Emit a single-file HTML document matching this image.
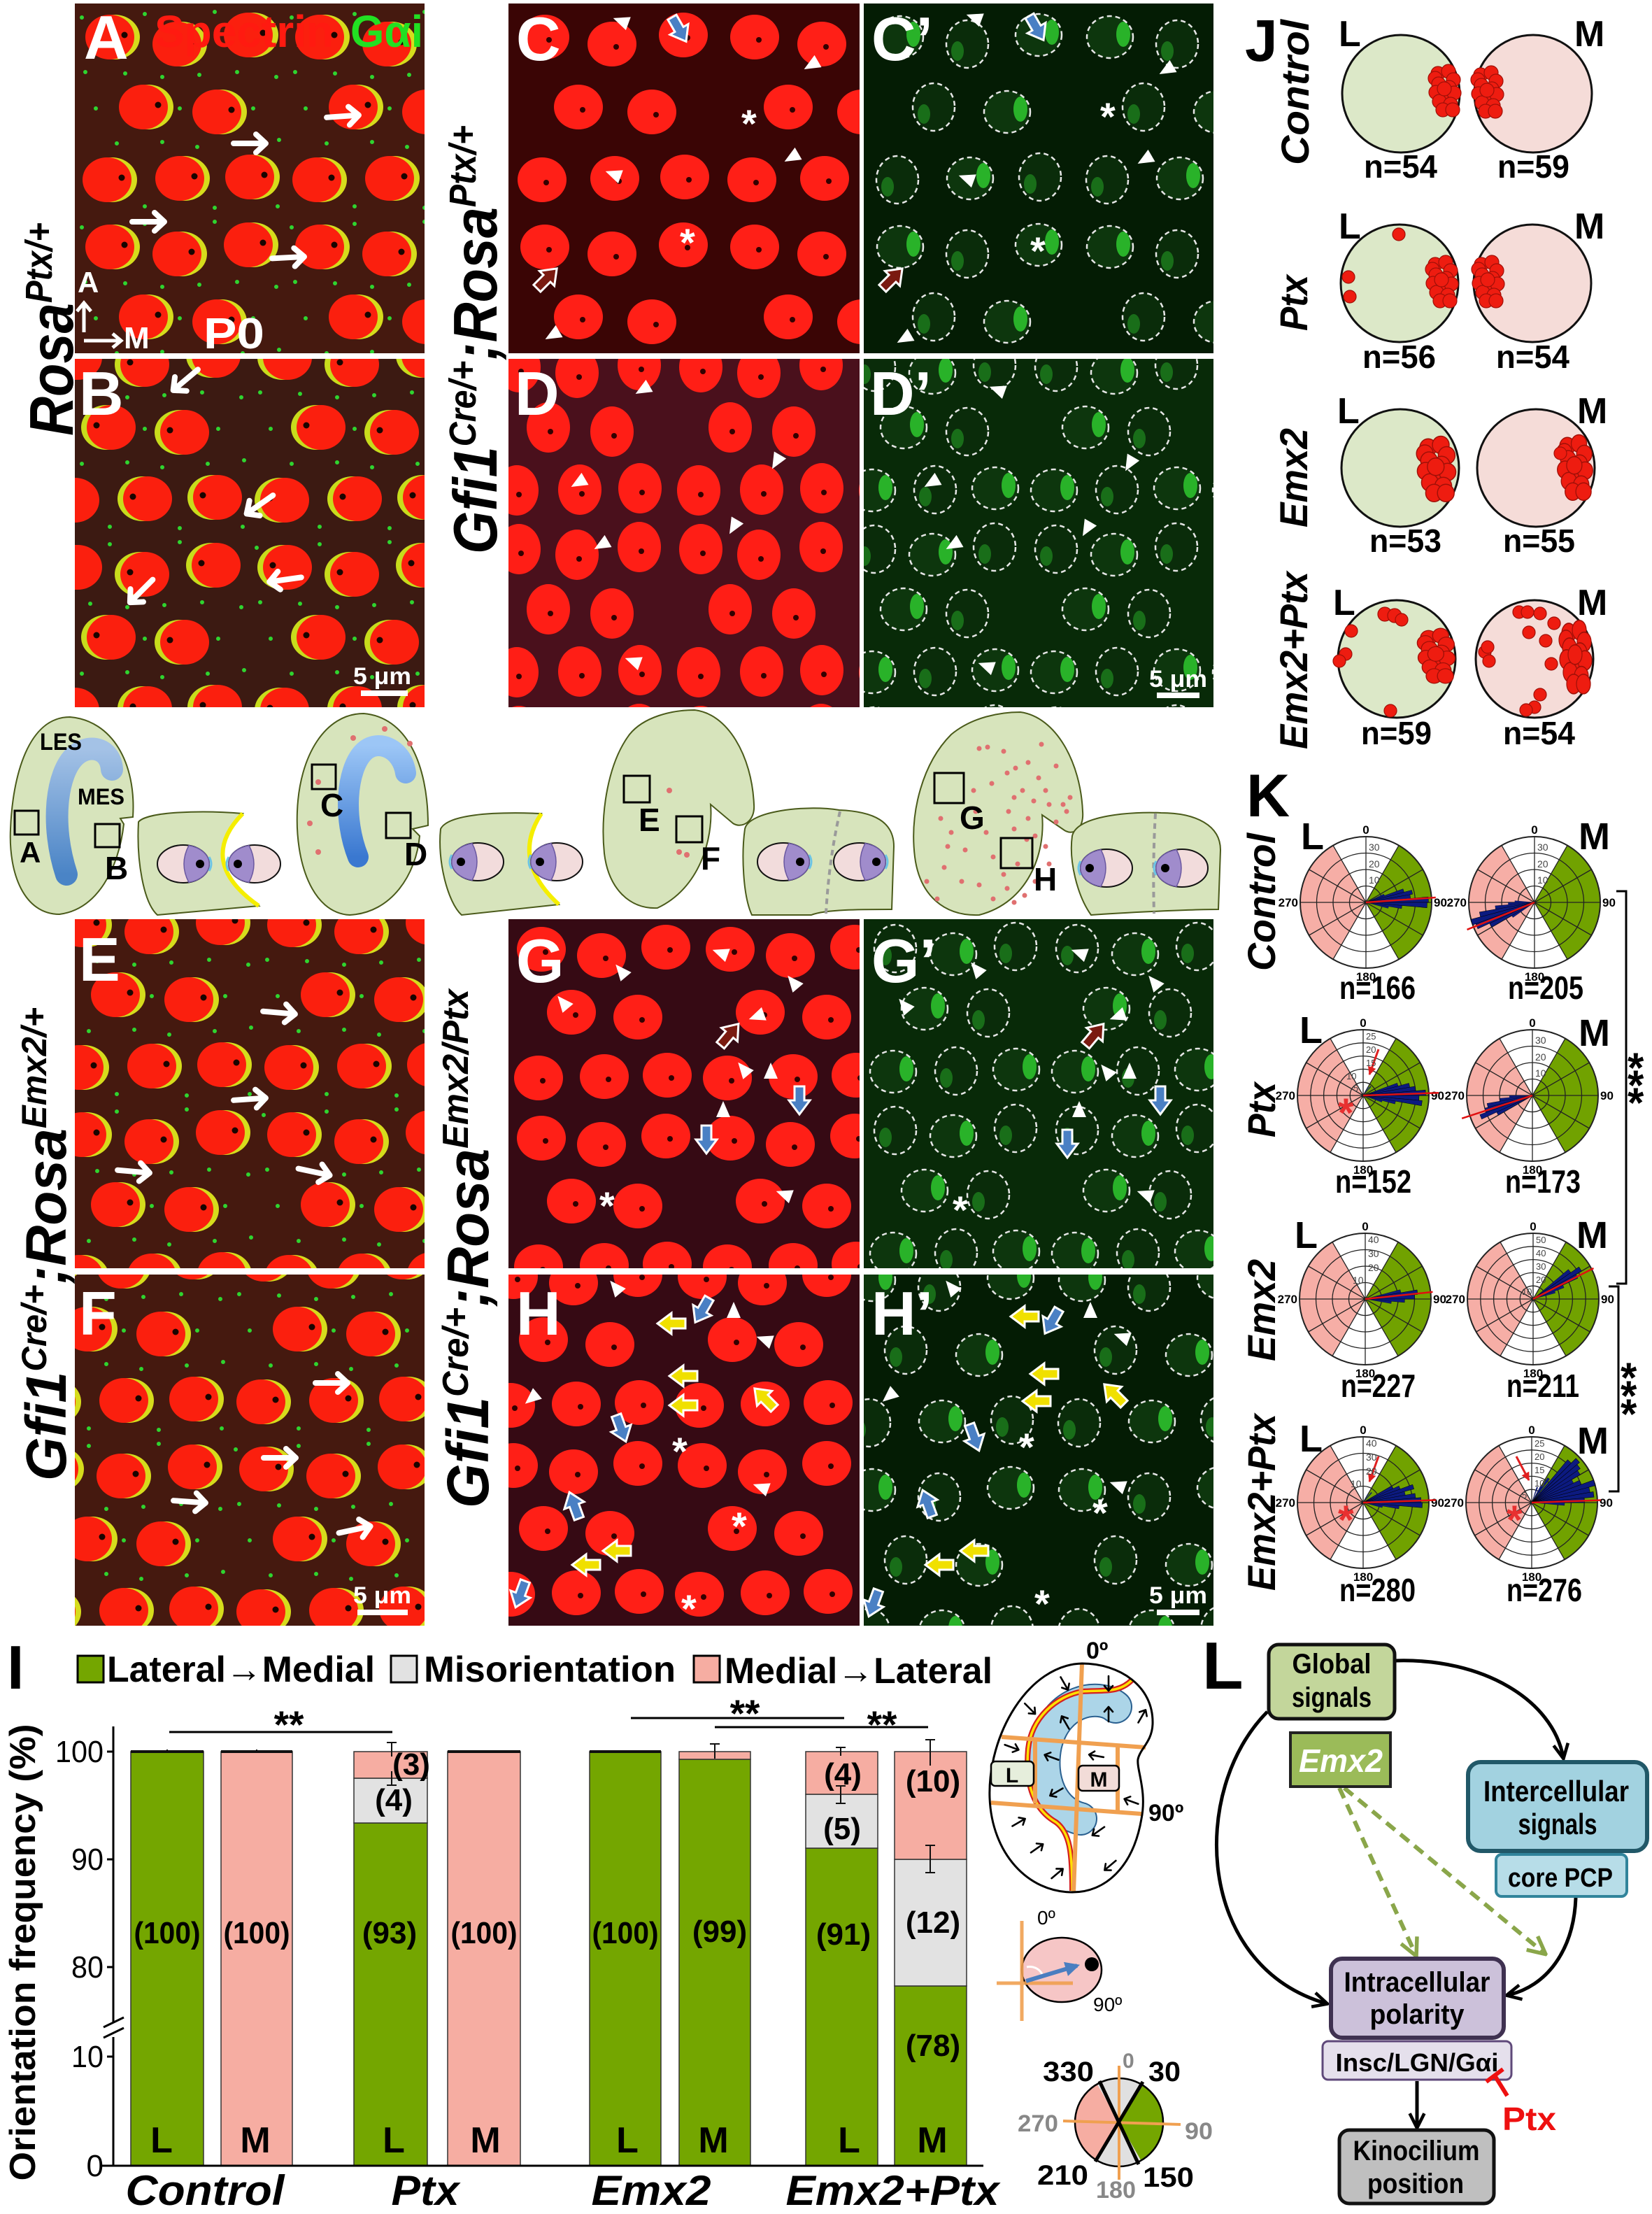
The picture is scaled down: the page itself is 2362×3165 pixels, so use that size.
<!DOCTYPE html>
<html><head><meta charset="utf-8"><style>
html,body{margin:0;padding:0;background:#fff;}
svg{display:block;}
.b{font-family:"Liberation Sans",sans-serif;font-weight:bold;}
.r{font-family:"Liberation Sans",sans-serif;}
.n{font-family:"Liberation Sans Narrow","Liberation Sans",sans-serif;font-weight:bold;}
.nr{font-family:"Liberation Sans Narrow","Liberation Sans",sans-serif;}
.bi{font-family:"Liberation Sans",sans-serif;font-weight:bold;font-style:italic;}
.ni{font-family:"Liberation Sans Narrow","Liberation Sans",sans-serif;font-weight:bold;font-style:italic;}
</style></head><body>
<svg width="2362" height="3165" viewBox="0 0 2362 3165" xmlns="http://www.w3.org/2000/svg">
<defs>
<g id="cA"><ellipse cx="5" rx="36" ry="32" fill="#d6dc1c"/><ellipse cx="-2" rx="35" ry="32" fill="#fb1f0e"/><circle cx="19" cy="-3" r="4.5" fill="#1a0400"/></g>
<g id="cB"><ellipse cx="-5" rx="36" ry="32" fill="#c8dc1c"/><ellipse cx="2" rx="35" ry="32" fill="#fb1f0e"/><circle cx="-19" cy="-3" r="4.5" fill="#1a0400"/></g>
<g id="cC"><ellipse rx="35" ry="32" fill="#ff1f17"/><circle cx="6" cy="4" r="4" fill="#300"/></g>
<g id="cD"><ellipse rx="31" ry="36" fill="#ff1e16"/><circle cx="3" cy="6" r="4" fill="#300"/></g>
<g id="cG"><ellipse rx="33" ry="30" fill="#0d360d"/><ellipse cx="19" cy="-4" rx="10" ry="18" fill="#2cc02c" opacity=".9"/><ellipse rx="33" ry="30" fill="none" stroke="#e6e6e6" stroke-width="2.5" stroke-dasharray="7 5"/></g>
<g id="cG0"><ellipse rx="30" ry="34" fill="#0a2c0a" stroke="#e6e6e6" stroke-width="2.5" stroke-dasharray="7 5"/><ellipse cx="-14" cy="10" rx="9" ry="14" fill="#1f8a1f" opacity=".7"/></g>
<path id="spk" d="M15 98h0M72 100h0M125 105h0M178 102h0M232 98h0M288 105h0M60 200h0M125 198h0M175 205h0M240 200h0M292 195h0M10 20h0M100 15h0M200 12h0M290 290h0M100 290h0M200 292h0M150 150h0M30 150h0M255 150h0" stroke="#2fd42f" stroke-width="6" stroke-linecap="round"/>
<pattern id="pA" width="300" height="300" patternUnits="userSpaceOnUse">
<rect width="300" height="300" fill="#45190f"/><use href="#spk"/>
<use href="#cA" x="52" y="48"/><use href="#cA" x="148" y="58"/><use href="#cA" x="250" y="45"/><use href="#cA" x="100" y="148"/><use href="#cA" x="205" y="155"/><use href="#cA" x="48" y="252"/><use href="#cA" x="152" y="250"/><use href="#cA" x="252" y="248"/>
</pattern>
<pattern id="pB" width="300" height="300" patternUnits="userSpaceOnUse">
<rect width="300" height="300" fill="#3c1a12"/><use href="#spk"/>
<use href="#cB" x="52" y="48"/><use href="#cB" x="148" y="58"/><use href="#cB" x="250" y="45"/><use href="#cB" x="100" y="148"/><use href="#cB" x="205" y="155"/><use href="#cB" x="48" y="252"/><use href="#cB" x="152" y="250"/><use href="#cB" x="252" y="248"/>
</pattern>
<pattern id="pC" width="300" height="300" patternUnits="userSpaceOnUse">
<rect width="300" height="300" fill="#3a0505"/>
<use href="#cC" x="52" y="48"/><use href="#cC" x="148" y="58"/><use href="#cC" x="250" y="45"/><use href="#cC" x="100" y="148"/><use href="#cC" x="205" y="155"/><use href="#cC" x="48" y="252"/><use href="#cC" x="152" y="250"/><use href="#cC" x="252" y="248"/>
</pattern>
<pattern id="pCg" width="300" height="300" patternUnits="userSpaceOnUse">
<rect width="300" height="300" fill="#041c04"/>
<use href="#cG" x="52" y="48"/><use href="#cG0" x="148" y="58"/><use href="#cG" x="250" y="45"/><use href="#cG0" x="100" y="148"/><use href="#cG" x="205" y="155"/><use href="#cG0" x="48" y="252"/><use href="#cG" x="152" y="250"/><use href="#cG0" x="252" y="248"/>
</pattern>
<pattern id="pD" width="260" height="260" patternUnits="userSpaceOnUse">
<rect width="260" height="260" fill="#4a101c"/>
<use href="#cD" x="45" y="42"/><use href="#cD" x="128" y="50"/><use href="#cD" x="217" y="39"/><use href="#cD" x="87" y="128"/><use href="#cD" x="178" y="134"/><use href="#cD" x="42" y="218"/><use href="#cD" x="132" y="217"/><use href="#cD" x="218" y="215"/>
</pattern>
<pattern id="pDg" width="260" height="260" patternUnits="userSpaceOnUse">
<rect width="260" height="260" fill="#082a08"/>
<use href="#cG0" x="45" y="42"/><use href="#cG" x="128" y="50"/><use href="#cG0" x="217" y="39"/><use href="#cG" x="87" y="128"/><use href="#cG0" x="178" y="134"/><use href="#cG" x="42" y="218"/><use href="#cG0" x="132" y="217"/><use href="#cG" x="218" y="215"/>
</pattern>
<pattern id="pG" width="270" height="270" patternUnits="userSpaceOnUse">
<rect width="270" height="270" fill="#360a14"/>
<use href="#cC" x="47" y="43"/><use href="#cC" x="133" y="52"/><use href="#cC" x="225" y="40"/><use href="#cC" x="90" y="133"/><use href="#cC" x="185" y="140"/><use href="#cC" x="43" y="227"/><use href="#cC" x="137" y="225"/><use href="#cC" x="227" y="223"/>
</pattern>
<path id="wa" d="M-26 0H18M6 -13L20 0L6 13" fill="none" stroke="#fff" stroke-width="8" stroke-linecap="round" stroke-linejoin="round"/>
<path id="ah" d="M-11 -10L12 0L-11 10Z" fill="#fff"/>
<path id="blk" d="M-7 -20H7V0H15L0 20L-15 0H-7Z" stroke="#fff" stroke-width="3"/>
<g id="ka"><path d="M-11 0H9M3 -6L10 0L3 6" fill="none" stroke="#000" stroke-width="2.6" stroke-linecap="round" stroke-linejoin="round"/></g>
<g id="hcR"><ellipse rx="37" ry="27" fill="#f2dcdc" stroke="#111" stroke-width="2"/><path d="M8 -26.4A37 27 0 0 1 8 26.4Q-6 0 8 -26.4Z" fill="#a08ccc" stroke="#6a58a0" stroke-width="1.5"/><circle cx="24" r="6" fill="#000"/><path d="M37 -10Q43 0 37 10" stroke="#6cc4e6" stroke-width="3" fill="none"/></g>
<g id="hcL" transform="scale(-1 1)"><use href="#hcR"/></g>
<g id="cl" fill="#ee1c10" stroke="#a01008" stroke-width="1.2"><circle cx="-10" cy="-25" r="10"/><circle cx="5" cy="-28" r="10"/><circle cx="12" cy="-16" r="10"/><circle cx="-14" cy="-18" r="10"/><circle cx="-9" cy="-10" r="10"/><circle cx="6" cy="-5" r="10"/><circle cx="-13" cy="2" r="10"/><circle cx="3" cy="7" r="10"/><circle cx="13" cy="3" r="10"/><circle cx="-8" cy="15" r="10"/><circle cx="8" cy="19" r="10"/><circle cx="-3" cy="27" r="10"/><circle cx="11" cy="27" r="10"/><circle cx="-1" cy="-3" r="10"/></g>
<path id="w" d="M0 0L-4.4 -100L4.4 -100Z" fill="#0c1a80" stroke="#000" stroke-width="0.6"/>
<g id="pbase">
<circle r="94" fill="#fff"/>
<path d="M0 0L47 -81.4A94 94 0 0 1 47 81.4Z" fill="#71a200"/>
<path d="M0 0L-47 81.4A94 94 0 0 1 -47 -81.4Z" fill="#f6aea6"/>
<path d="M0 -94V94M-94 0H94M47 -81.4L-47 81.4M81.4 -47L-81.4 47M81.4 47L-81.4 -47M47 81.4L-47 -81.4" fill="none" stroke="#222" stroke-width="1.3"/>
<circle r="94" fill="none" stroke="#222" stroke-width="2"/>
<text class="b" font-size="17" text-anchor="middle" y="-98">0</text>
<text class="b" font-size="17" text-anchor="middle" y="112">180</text>
<text class="b" font-size="17" x="-97" y="6" text-anchor="end">270</text>
<text class="b" font-size="17" x="97" y="6">90</text>
</g>
<g id="r4" fill="none" stroke="#222" stroke-width="1.3"><circle r="23.5"/><circle r="47"/><circle r="70.5"/></g>
<g id="r5" fill="none" stroke="#222" stroke-width="1.3"><circle r="18.8"/><circle r="37.6"/><circle r="56.4"/><circle r="75.2"/></g>
<marker id="mB" viewBox="0 0 12 12" refX="10" refY="6" markerWidth="5" markerHeight="5" orient="auto"><path d="M1 1L11 6L1 11" fill="none" stroke="#000" stroke-width="2.2"/></marker>
<marker id="mG" viewBox="0 0 12 12" refX="10" refY="6" markerWidth="5" markerHeight="5" orient="auto"><path d="M1 1L11 6L1 11" fill="none" stroke="#8aa64a" stroke-width="2.2"/></marker>
<marker id="mR" viewBox="0 0 10 10" refX="9" refY="5" markerWidth="4" markerHeight="4" orient="auto"><path d="M0 0L10 5L0 10Z" fill="#e02020"/></marker>
<marker id="mBl" viewBox="0 0 10 10" refX="8" refY="5" markerWidth="3.5" markerHeight="3.5" orient="auto"><path d="M0 0L10 5L0 10Z" fill="#4a7ec0"/></marker>
<linearGradient id="bl1" x1="0" y1="0" x2="0" y2="1"><stop offset="0" stop-color="#a4c2e6"/><stop offset="1" stop-color="#4a84c6"/></linearGradient>
<linearGradient id="bl2" x1="0" y1="0" x2="0" y2="1"><stop offset="0" stop-color="#9cc6f6"/><stop offset="1" stop-color="#3a78d0"/></linearGradient>
</defs>

<!-- ===== Microscopy panels ===== -->
<g transform="translate(107,5)"><rect width="500" height="500" fill="url(#pA)"/></g>
<g transform="translate(57,463)"><rect x="50" y="50" width="500" height="498" fill="url(#pB)"/></g>
<g transform="translate(727,5)"><rect width="502" height="500" fill="url(#pC)"/></g>
<g transform="translate(1235,5)"><rect width="500" height="500" fill="url(#pCg)"/></g>
<g transform="translate(697,483)"><rect x="30" y="30" width="502" height="498" fill="url(#pD)"/></g>
<g transform="translate(1205,483)"><rect x="30" y="30" width="500" height="498" fill="url(#pDg)"/></g>
<g transform="translate(67,1274)"><rect x="40" y="40" width="500" height="499" fill="url(#pA)"/></g>
<g transform="translate(27,1752)"><rect x="80" y="70" width="500" height="502" fill="url(#pA)"/></g>
<g transform="translate(727,1314)"><rect width="502" height="499" fill="url(#pG)"/></g>
<g transform="translate(1235,1314)"><rect width="500" height="499" fill="url(#pDg)"/></g>
<g transform="translate(687,1782)"><rect x="40" y="40" width="502" height="502" fill="url(#pG)"/></g>
<g transform="translate(1195,1782)"><rect x="40" y="40" width="500" height="502" fill="url(#pCg)"/></g>

<!-- Panel A overlays -->
<text class="b" x="120" y="84" font-size="88" fill="#fff">A</text>
<text class="n" x="221" y="67" font-size="64" fill="#ff1a10" textLength="256" lengthAdjust="spacingAndGlyphs">Spectrin</text>
<text class="n" x="501" y="67" font-size="64" fill="#22e022" textLength="104" lengthAdjust="spacingAndGlyphs">Gαi</text>
<use href="#wa" transform="translate(493,166) rotate(-4)"/>
<use href="#wa" transform="translate(360,205)"/>
<use href="#wa" transform="translate(215,317)"/>
<use href="#wa" transform="translate(415,368) rotate(-3)"/>
<text class="b" x="111" y="418" font-size="42" fill="#fff">A</text>
<path d="M120 475V434M110 445L120 433L130 445M120 487H172M161 477L173 487L161 497" fill="none" stroke="#fff" stroke-width="5"/>
<text class="b" x="177" y="498" font-size="44" fill="#fff">M</text>
<text class="b" x="291" y="498" font-size="62" fill="#fff" textLength="87" lengthAdjust="spacingAndGlyphs">P0</text>
<!-- B -->
<text class="b" x="113" y="593" font-size="88" fill="#fff">B</text>
<use href="#wa" transform="translate(263,545) rotate(140)"/>
<use href="#wa" transform="translate(369,723) rotate(145)"/>
<use href="#wa" transform="translate(405,829) rotate(172)"/>
<use href="#wa" transform="translate(200,847) rotate(135)"/>
<text class="b" x="505" y="978" font-size="34" fill="#fff" textLength="83" lengthAdjust="spacingAndGlyphs">5 μm</text>
<rect x="516" y="987" width="67" height="8" fill="#fff"/>
<!-- C -->
<text class="b" x="738" y="86" font-size="88" fill="#fff">C</text>
<use href="#ah" transform="translate(888,30) rotate(200)"/><use href="#ah" transform="translate(1160,93) rotate(150)"/><use href="#ah" transform="translate(1132,225) rotate(150)"/><use href="#ah" transform="translate(877,249) rotate(200)"/><use href="#ah" transform="translate(790,479) rotate(150)"/>
<text class="b" x="1060" y="196" font-size="56" fill="#fff">*</text><text class="b" x="972" y="366" font-size="56" fill="#fff">*</text>
<use href="#blk" fill="#4a80c4" transform="translate(971,42) rotate(-30)"/>
<use href="#blk" fill="#7a1a10" transform="translate(782,398) rotate(-135)"/>
<!-- C' -->
<text class="b" x="1246" y="86" font-size="88" fill="#fff">C’</text>
<use href="#ah" transform="translate(1393,25) rotate(200)"/><use href="#ah" transform="translate(1668,100) rotate(150)"/><use href="#ah" transform="translate(1637,228) rotate(150)"/><use href="#ah" transform="translate(1382,255) rotate(200)"/><use href="#ah" transform="translate(1293,484) rotate(150)"/>
<text class="b" x="1573" y="186" font-size="56" fill="#fff">*</text><text class="b" x="1473" y="378" font-size="56" fill="#fff">*</text>
<use href="#blk" fill="#4a80c4" transform="translate(1482,40) rotate(-30)"/>
<use href="#blk" fill="#7a1a10" transform="translate(1276,398) rotate(-135)"/>
<!-- D -->
<text class="b" x="736" y="593" font-size="88" fill="#fff">D</text>
<use href="#ah" transform="translate(919,557) rotate(150)"/><use href="#ah" transform="translate(827,690) rotate(150)"/><use href="#ah" transform="translate(1110,660) rotate(120)"/><use href="#ah" transform="translate(860,779) rotate(150)"/><use href="#ah" transform="translate(1049,753) rotate(120)"/><use href="#ah" transform="translate(905,945) rotate(200)"/>
<!-- D' -->
<text class="b" x="1244" y="593" font-size="88" fill="#fff">D’</text>
<use href="#ah" transform="translate(1426,557) rotate(200)"/><use href="#ah" transform="translate(1332,690) rotate(150)"/><use href="#ah" transform="translate(1615,663) rotate(120)"/><use href="#ah" transform="translate(1363,779) rotate(150)"/><use href="#ah" transform="translate(1554,756) rotate(120)"/><use href="#ah" transform="translate(1410,952) rotate(200)"/>
<text class="b" x="1643" y="982" font-size="34" fill="#fff" textLength="83" lengthAdjust="spacingAndGlyphs">5 μm</text>
<rect x="1654" y="990" width="61" height="8" fill="#fff"/>
<!-- E -->
<text class="b" x="113" y="1402" font-size="88" fill="#fff">E</text>
<use href="#wa" transform="translate(402,1448) rotate(5)"/><use href="#wa" transform="translate(360,1571) rotate(-4)"/><use href="#wa" transform="translate(194,1675) rotate(5)"/><use href="#wa" transform="translate(452,1676) rotate(12)"/>
<!-- F -->
<text class="b" x="113" y="1908" font-size="88" fill="#fff">F</text>
<use href="#wa" transform="translate(477,1977)"/><use href="#wa" transform="translate(403,2084)"/><use href="#wa" transform="translate(274,2147) rotate(4)"/><use href="#wa" transform="translate(510,2186) rotate(-12)"/>
<text class="b" x="505" y="2292" font-size="34" fill="#fff" textLength="83" lengthAdjust="spacingAndGlyphs">5 μm</text>
<rect x="511" y="2301" width="72" height="8" fill="#fff"/>
<!-- G -->
<text class="b" x="738" y="1404" font-size="88" fill="#fff">G</text>
<use href="#ah" transform="translate(805,1433) rotate(230)"/><use href="#ah" transform="translate(888,1388) rotate(230)"/><use href="#ah" transform="translate(1030,1362) rotate(200)"/><use href="#ah" transform="translate(1134,1404) rotate(230)"/><use href="#ah" transform="translate(1082,1453) rotate(160)"/><use href="#ah" transform="translate(1063,1528) rotate(230)"/><use href="#ah" transform="translate(1102,1531) rotate(270)"/><use href="#ah" transform="translate(1034,1586) rotate(270)"/><use href="#ah" transform="translate(1121,1707) rotate(200)"/>
<use href="#blk" fill="#7a1a10" transform="translate(1043,1479) rotate(-140)"/>
<use href="#blk" fill="#4a80c4" transform="translate(1143,1573)"/><use href="#blk" fill="#4a80c4" transform="translate(1010,1629)"/>
<text class="b" x="857" y="1743" font-size="56" fill="#fff">*</text>
<!-- G' -->
<text class="b" x="1246" y="1404" font-size="88" fill="#fff">G’</text>
<use href="#ah" transform="translate(1293,1437) rotate(230)"/><use href="#ah" transform="translate(1396,1385) rotate(230)"/><use href="#ah" transform="translate(1543,1362) rotate(200)"/><use href="#ah" transform="translate(1650,1404) rotate(230)"/><use href="#ah" transform="translate(1598,1453) rotate(160)"/><use href="#ah" transform="translate(1582,1531) rotate(230)"/><use href="#ah" transform="translate(1615,1531) rotate(270)"/><use href="#ah" transform="translate(1543,1586) rotate(270)"/><use href="#ah" transform="translate(1637,1707) rotate(200)"/>
<use href="#blk" fill="#7a1a10" transform="translate(1565,1479) rotate(-140)"/>
<use href="#blk" fill="#4a80c4" transform="translate(1659,1573)"/><use href="#blk" fill="#4a80c4" transform="translate(1526,1635)"/>
<text class="b" x="1362" y="1749" font-size="56" fill="#fff">*</text>
<!-- H -->
<text class="b" x="738" y="1908" font-size="88" fill="#fff">H</text>
<use href="#ah" transform="translate(880,1840) rotate(230)"/><use href="#ah" transform="translate(1049,1873) rotate(270)"/><use href="#ah" transform="translate(1093,1915) rotate(200)"/><use href="#ah" transform="translate(760,1999) rotate(140)"/><use href="#ah" transform="translate(1088,2126) rotate(200)"/>
<use href="#blk" fill="#f0e000" transform="translate(960,1892) rotate(90)"/><use href="#blk" fill="#f0e000" transform="translate(977,1967) rotate(90)"/><use href="#blk" fill="#f0e000" transform="translate(977,2009) rotate(90)"/><use href="#blk" fill="#f0e000" transform="translate(1093,1999) rotate(135)"/><use href="#blk" fill="#f0e000" transform="translate(882,2217) rotate(90)"/><use href="#blk" fill="#f0e000" transform="translate(838,2237) rotate(90)"/>
<use href="#blk" fill="#4a80c4" transform="translate(1004,1873) rotate(30)"/><use href="#blk" fill="#4a80c4" transform="translate(888,2042) rotate(-20)"/><use href="#blk" fill="#4a80c4" transform="translate(821,2152) rotate(160)"/><use href="#blk" fill="#4a80c4" transform="translate(744,2279) rotate(20)"/>
<text class="b" x="961" y="2094" font-size="56" fill="#fff">*</text><text class="b" x="1046" y="2201" font-size="56" fill="#fff">*</text><text class="b" x="974" y="2319" font-size="56" fill="#fff">*</text>
<!-- H' -->
<text class="b" x="1246" y="1908" font-size="88" fill="#fff">H’</text>
<use href="#ah" transform="translate(1360,1840) rotate(230)"/><use href="#ah" transform="translate(1559,1873) rotate(270)"/><use href="#ah" transform="translate(1604,1911) rotate(200)"/><use href="#ah" transform="translate(1271,1996) rotate(140)"/><use href="#ah" transform="translate(1598,2123) rotate(200)"/>
<use href="#blk" fill="#f0e000" transform="translate(1465,1882) rotate(90)"/><use href="#blk" fill="#f0e000" transform="translate(1493,1964) rotate(90)"/><use href="#blk" fill="#f0e000" transform="translate(1482,2003) rotate(90)"/><use href="#blk" fill="#f0e000" transform="translate(1593,1993) rotate(135)"/><use href="#blk" fill="#f0e000" transform="translate(1393,2217) rotate(90)"/><use href="#blk" fill="#f0e000" transform="translate(1343,2237) rotate(90)"/>
<use href="#blk" fill="#4a80c4" transform="translate(1504,1889) rotate(30)"/><use href="#blk" fill="#4a80c4" transform="translate(1393,2055) rotate(-20)"/><use href="#blk" fill="#4a80c4" transform="translate(1326,2149) rotate(160)"/><use href="#blk" fill="#4a80c4" transform="translate(1249,2292) rotate(20)"/>
<text class="b" x="1457" y="2088" font-size="56" fill="#fff">*</text><text class="b" x="1562" y="2182" font-size="56" fill="#fff">*</text><text class="b" x="1479" y="2312" font-size="56" fill="#fff">*</text>
<text class="b" x="1643" y="2292" font-size="34" fill="#fff" textLength="83" lengthAdjust="spacingAndGlyphs">5 μm</text>
<rect x="1654" y="2301" width="61" height="8" fill="#fff"/>

<!-- Rotated genotype labels -->
<text class="bi" font-size="88" transform="translate(104,623) rotate(-90)" textLength="305" lengthAdjust="spacingAndGlyphs">Rosa<tspan font-size="54" dy="-30">Ptx/+</tspan></text>
<text class="bi" font-size="88" transform="translate(710,792) rotate(-90)" textLength="613" lengthAdjust="spacingAndGlyphs">Gfi1<tspan font-size="54" dy="-30">Cre/+</tspan><tspan dy="30">;Rosa</tspan><tspan font-size="54" dy="-30">Ptx/+</tspan></text>
<text class="bi" font-size="82" transform="translate(94,2117) rotate(-90)" textLength="677" lengthAdjust="spacingAndGlyphs">Gfi1<tspan font-size="50" dy="-28">Cre/+</tspan><tspan dy="28">;Rosa</tspan><tspan font-size="50" dy="-28">Emx2/+</tspan></text>
<text class="bi" font-size="84" transform="translate(698,2156) rotate(-90)" textLength="742" lengthAdjust="spacingAndGlyphs">Gfi1<tspan font-size="52" dy="-29">Cre/+</tspan><tspan dy="29">;Rosa</tspan><tspan font-size="52" dy="-29">Emx2/Ptx</tspan></text>

<!-- ===== Schematic row ===== -->
<g stroke="#4a5a1a" stroke-width="2">
<path d="M100 1025C160 1030 195 1090 190 1168L172 1170L177 1178C170 1240 140 1300 85 1307C35 1307 12 1250 15 1185C18 1110 40 1025 100 1025Z" fill="#d7e4bc"/>
<path d="M520 1020C580 1025 612 1090 612 1180L590 1185L600 1195C595 1250 560 1305 500 1308C445 1305 422 1230 425 1160C428 1080 465 1020 520 1020Z" fill="#d7e4bc"/>
<path d="M993 1015C1040 1020 1075 1080 1078 1150C1080 1175 1060 1185 1048 1177L1016 1150C1020 1200 1000 1270 940 1298C900 1300 870 1270 864 1220C858 1160 870 1090 900 1050C920 1025 960 1015 993 1015Z" fill="#d7e4bc"/>
<path d="M1459 1018C1510 1025 1545 1090 1548 1160C1550 1185 1535 1195 1522 1187L1490 1165C1495 1220 1470 1290 1400 1308C1350 1310 1315 1280 1308 1225C1300 1160 1320 1090 1360 1050C1390 1025 1430 1018 1459 1018Z" fill="#d7e4bc"/>
<path d="M198 1175C210 1160 290 1158 347 1163Q280 1232 370 1295L225 1308C205 1290 195 1230 198 1175Z" fill="#d7e4bc"/>
<path d="M630 1185C640 1165 700 1160 774 1163Q730 1230 799 1293L660 1308C640 1290 625 1230 630 1185Z" fill="#d7e4bc"/>
<path d="M1065 1185C1070 1160 1150 1150 1200 1158C1250 1160 1278 1175 1278 1210L1275 1300C1230 1300 1180 1300 1160 1308L1075 1308C1062 1280 1060 1220 1065 1185Z" fill="#d7e4bc"/>
<path d="M1533 1195C1540 1165 1620 1160 1660 1162C1710 1162 1745 1180 1745 1215L1742 1300C1700 1300 1600 1305 1560 1308C1540 1280 1528 1230 1533 1195Z" fill="#d7e4bc"/>
</g>
<path d="M160 1100C158 1070 128 1062 108 1080C80 1105 72 1180 95 1250" fill="none" stroke="url(#bl1)" stroke-width="32" stroke-linecap="round"/>
<path d="M580 1105C575 1070 540 1055 520 1075C495 1100 490 1170 512 1225" fill="none" stroke="url(#bl2)" stroke-width="30" stroke-linecap="round"/>
<path d="M347 1163Q280 1232 370 1295" fill="none" stroke="#f5ee00" stroke-width="6"/>
<path d="M774 1163Q730 1230 799 1293" fill="none" stroke="#f5ee00" stroke-width="6"/>
<path d="M1201 1160Q1185 1230 1181 1306" fill="none" stroke="#9a9a9a" stroke-width="4" stroke-dasharray="8 6"/>
<path d="M1652 1163Q1648 1230 1650 1306" fill="none" stroke="#9a9a9a" stroke-width="4" stroke-dasharray="8 6"/>
<use href="#hcR" x="262" y="1235"/><use href="#hcL" x="364" y="1235"/>
<use href="#hcL" x="683" y="1232"/><use href="#hcL" x="796" y="1232"/>
<use href="#hcR" x="1120" y="1232"/><use href="#hcR" x="1229" y="1232"/>
<use href="#hcL" x="1582" y="1241"/><use href="#hcL" x="1690" y="1241"/>
<g fill="#e07070">
<circle cx="550" cy="1042" r="4"/><circle cx="505" cy="1055" r="4"/><circle cx="586" cy="1063" r="4"/><circle cx="455" cy="1118" r="4"/><circle cx="443" cy="1177" r="4"/><circle cx="455" cy="1218" r="4"/>
<circle cx="957" cy="1130" r="4"/><circle cx="971" cy="1218" r="4"/><circle cx="982" cy="1222" r="4"/>
<circle cx="1400" cy="1070" r="3.5"/><circle cx="1412" cy="1068" r="3.5"/><circle cx="1435" cy="1074" r="3.5"/><circle cx="1489" cy="1064" r="3.5"/><circle cx="1418" cy="1120" r="3.5"/><circle cx="1440" cy="1105" r="3.5"/><circle cx="1452" cy="1098" r="3.5"/><circle cx="1470" cy="1090" r="3.5"/><circle cx="1485" cy="1112" r="3.5"/><circle cx="1510" cy="1095" r="3.5"/><circle cx="1495" cy="1130" r="3.5"/><circle cx="1462" cy="1130" r="3.5"/><circle cx="1450" cy="1140" r="3.5"/><circle cx="1478" cy="1145" r="3.5"/><circle cx="1500" cy="1150" r="3.5"/><circle cx="1520" cy="1150" r="3.5"/><circle cx="1510" cy="1175" r="3.5"/><circle cx="1525" cy="1160" r="3.5"/><circle cx="1530" cy="1140" r="3.5"/><circle cx="1442" cy="1160" r="3.5"/><circle cx="1470" cy="1170" r="3.5"/><circle cx="1392" cy="1130" r="3.5"/><circle cx="1395" cy="1160" r="3.5"/><circle cx="1410" cy="1190" r="3.5"/><circle cx="1450" cy="1185" r="3.5"/><circle cx="1468" cy="1200" r="3.5"/><circle cx="1480" cy="1195" r="3.5"/><circle cx="1360" cy="1190" r="3.5"/><circle cx="1355" cy="1210" r="3.5"/><circle cx="1380" cy="1215" r="3.5"/><circle cx="1420" cy="1225" r="3.5"/><circle cx="1435" cy="1250" r="3.5"/><circle cx="1455" cy="1235" r="3.5"/><circle cx="1480" cy="1260" r="3.5"/><circle cx="1400" cy="1265" r="3.5"/><circle cx="1440" cy="1270" r="3.5"/><circle cx="1465" cy="1280" r="3.5"/><circle cx="1420" cy="1285" r="3.5"/><circle cx="1375" cy="1260" r="3.5"/><circle cx="1350" cy="1240" r="3.5"/><circle cx="1345" cy="1170" r="3.5"/><circle cx="1450" cy="1290" r="3.5"/><circle cx="1495" cy="1210" r="3.5"/><circle cx="1500" cy="1235" r="3.5"/><circle cx="1325" cy="1260" r="3.5"/><circle cx="1340" cy="1285" r="3.5"/>
</g>
<g fill="none" stroke="#000" stroke-width="3">
<rect x="21" y="1159" width="34" height="34"/><rect x="136" y="1178" width="35" height="33"/>
<rect x="446" y="1093" width="34" height="35"/><rect x="552" y="1162" width="35" height="36"/>
<rect x="892" y="1109" width="37" height="38"/><rect x="967" y="1167" width="37" height="37"/>
<rect x="1336" y="1105" width="42" height="43"/><rect x="1431" y="1198" width="45" height="43"/>
</g>
<g class="b" font-size="46">
<text x="28" y="1233" font-size="42">A</text><text x="150" y="1257">B</text>
<text x="458" y="1167">C</text><text x="578" y="1237">D</text>
<text x="913" y="1188">E</text><text x="1002" y="1243">F</text>
<text x="1372" y="1185">G</text><text x="1478" y="1273">H</text>
</g>
<text class="b" x="57" y="1072" font-size="34" textLength="60" lengthAdjust="spacingAndGlyphs">LES</text>
<text class="b" x="111" y="1150" font-size="32" textLength="67" lengthAdjust="spacingAndGlyphs">MES</text>

<!-- ===== J panel ===== -->
<text class="b" x="1780" y="87" font-size="84">J</text>
<g stroke="#111" stroke-width="3">
<circle cx="2003" cy="134" r="84" fill="#dce8c8"/><circle cx="2192" cy="134" r="84" fill="#f5dcd8"/>
<circle cx="2001" cy="405" r="84" fill="#dce8c8"/><circle cx="2191" cy="405" r="84" fill="#f5dcd8"/>
<circle cx="2002" cy="669" r="84" fill="#dce8c8"/><circle cx="2196" cy="669" r="84" fill="#f5dcd8"/>
<circle cx="1997" cy="942" r="84" fill="#dce8c8"/><circle cx="2194" cy="942" r="84" fill="#f5dcd8"/>
</g>
<use href="#cl" transform="translate(2066,130)"/>
<use href="#cl" transform="translate(2127,132)"/>
<use href="#cl" transform="translate(2062,403)"/>
<use href="#cl" transform="translate(2128,403)"/>
<use href="#cl" transform="translate(2054,671) scale(1.2 1.25)"/>
<use href="#cl" transform="translate(2252,669) scale(1.1 1.25)"/>
<use href="#cl" transform="translate(2054,938) scale(1.15 1.05)"/>
<use href="#cl" transform="translate(2253,940) scale(1 1.4)"/>
<g fill="#ee1c10" stroke="#a01008" stroke-width="1.2">
<circle cx="2000" cy="335" r="9"/><circle cx="1928" cy="396" r="9"/><circle cx="1930" cy="424" r="9"/>
<circle cx="2231" cy="648" r="9"/>
<circle cx="1980" cy="878" r="10"/><circle cx="1994" cy="880" r="10"/><circle cx="2004" cy="886" r="9"/><circle cx="1932" cy="902" r="9"/><circle cx="1924" cy="935" r="9"/><circle cx="1915" cy="945" r="9"/><circle cx="1988" cy="1016" r="9"/>
<circle cx="2172" cy="875" r="9"/><circle cx="2184" cy="875" r="9"/><circle cx="2202" cy="877" r="9"/><circle cx="2222" cy="891" r="9"/><circle cx="2186" cy="904" r="9"/><circle cx="2210" cy="916" r="9"/><circle cx="2218" cy="949" r="9"/><circle cx="2123" cy="932" r="9"/><circle cx="2129" cy="945" r="9"/><circle cx="2127" cy="925" r="9"/><circle cx="2202" cy="993" r="9"/><circle cx="2194" cy="1011" r="9"/><circle cx="2182" cy="1015" r="9"/>
</g>
<g class="b" font-size="52">
<text x="1914" y="66">L</text><text x="2251" y="66">M</text>
<text x="1914" y="341">L</text><text x="2251" y="341">M</text>
<text x="1912" y="605">L</text><text x="2255" y="605">M</text>
<text x="1906" y="879">L</text><text x="2255" y="879">M</text>
</g>
<g class="b" font-size="46">
<text x="1950" y="254" textLength="105" lengthAdjust="spacingAndGlyphs">n=54</text><text x="2141" y="254" textLength="103" lengthAdjust="spacingAndGlyphs">n=59</text>
<text x="1948" y="526" textLength="105" lengthAdjust="spacingAndGlyphs">n=56</text><text x="2139" y="526" textLength="105" lengthAdjust="spacingAndGlyphs">n=54</text>
<text x="1958" y="789" textLength="103" lengthAdjust="spacingAndGlyphs">n=53</text><text x="2149" y="789" textLength="103" lengthAdjust="spacingAndGlyphs">n=55</text>
<text x="1946" y="1064" textLength="101" lengthAdjust="spacingAndGlyphs">n=59</text><text x="2149" y="1064" textLength="103" lengthAdjust="spacingAndGlyphs">n=54</text>
</g>
<g class="ni" font-size="56">
<text transform="translate(1871,236) rotate(-90)" textLength="208" lengthAdjust="spacingAndGlyphs">Control</text>
<text transform="translate(1869,473) rotate(-90)" textLength="80" lengthAdjust="spacingAndGlyphs">Ptx</text>
<text transform="translate(1869,754) rotate(-90)" textLength="142" lengthAdjust="spacingAndGlyphs">Emx2</text>
<text transform="translate(1869,1071) rotate(-90)" textLength="254" lengthAdjust="spacingAndGlyphs">Emx2+Ptx</text>
</g>

<!-- ===== K panel ===== -->
<text class="b" x="1782" y="1167" font-size="86">K</text>
<g class="ni" font-size="56">
<text transform="translate(1823,1388) rotate(-90)" textLength="197" lengthAdjust="spacingAndGlyphs">Control</text>
<text transform="translate(1823,1626) rotate(-90)" textLength="79" lengthAdjust="spacingAndGlyphs">Ptx</text>
<text transform="translate(1823,1946) rotate(-90)" textLength="146" lengthAdjust="spacingAndGlyphs">Emx2</text>
<text transform="translate(1823,2274) rotate(-90)" textLength="253" lengthAdjust="spacingAndGlyphs">Emx2+Ptx</text>
</g>
<g transform="translate(1953,1290)"><use href="#pbase"/><use href="#r4"/>
<g transform="scale(.94)"><use href="#w" transform="rotate(67.5) scale(.3)"/><use href="#w" transform="rotate(72.5) scale(.6)"/><use href="#w" transform="rotate(77.5) scale(.72)"/><use href="#w" transform="rotate(82.5) scale(.68)"/><use href="#w" transform="rotate(87.5) scale(.95)"/><use href="#w" transform="rotate(92.5) scale(.93)"/><use href="#w" transform="rotate(97.5) scale(.55)"/><use href="#w" transform="rotate(102.5) scale(.35)"/></g>
<line x1="0" y1="0" x2="0" y2="-100" stroke="#e01010" stroke-width="2.5" transform="rotate(86)"/>
<g class="r" font-size="14" fill="#444"><text x="4" y="-74">30</text><text x="4" y="-50">20</text><text x="4" y="-27">10</text></g></g>
<g transform="translate(2194,1290)"><use href="#pbase"/><use href="#r4"/>
<g transform="scale(.94)"><use href="#w" transform="rotate(237.5) scale(.4)"/><use href="#w" transform="rotate(242.5) scale(.75)"/><use href="#w" transform="rotate(247.5) scale(.95)"/><use href="#w" transform="rotate(252.5) scale(1)"/><use href="#w" transform="rotate(257.5) scale(.85)"/><use href="#w" transform="rotate(262.5) scale(.6)"/><use href="#w" transform="rotate(267.5) scale(.4)"/><use href="#w" transform="rotate(272.5) scale(.3)"/></g>
<line x1="0" y1="0" x2="0" y2="-104" stroke="#e01010" stroke-width="2.5" transform="rotate(248)"/>
<g class="r" font-size="14" fill="#444"><text x="4" y="-74">30</text><text x="4" y="-50">20</text><text x="4" y="-27">10</text></g></g>
<g transform="translate(1949,1566)"><use href="#pbase"/><use href="#r5"/>
<g transform="scale(.94)"><use href="#w" transform="rotate(30) scale(.15)"/><use href="#w" transform="rotate(40) scale(.18)"/><use href="#w" transform="rotate(72.5) scale(.55)"/><use href="#w" transform="rotate(77.5) scale(.72)"/><use href="#w" transform="rotate(82.5) scale(.8)"/><use href="#w" transform="rotate(87.5) scale(.95)"/><use href="#w" transform="rotate(92.5) scale(.85)"/><use href="#w" transform="rotate(97.5) scale(.9)"/><use href="#w" transform="rotate(102.5) scale(.5)"/><use href="#w" transform="rotate(107.5) scale(.3)"/></g>
<line x1="0" y1="0" x2="0" y2="-108" stroke="#e01010" stroke-width="2.5" transform="rotate(88)"/>
<path d="M22 -66L9 -30" stroke="#e02020" stroke-width="3" marker-end="url(#mR)"/>
<text class="b" x="-36" y="45" font-size="58" fill="#e83030">*</text>
<g class="r" font-size="13" fill="#444"><text x="4" y="-80">25</text><text x="4" y="-61">20</text><text x="4" y="-42">15</text><text x="-24" y="-23">10</text><text x="-14" y="-6">5</text></g></g>
<g transform="translate(2191,1566)"><use href="#pbase"/><use href="#r4"/>
<g transform="scale(.94)"><use href="#w" transform="rotate(242.5) scale(.6)"/><use href="#w" transform="rotate(247.5) scale(.85)"/><use href="#w" transform="rotate(252.5) scale(.75)"/><use href="#w" transform="rotate(257.5) scale(.7)"/><use href="#w" transform="rotate(262.5) scale(.5)"/><use href="#w" transform="rotate(267.5) scale(.35)"/></g>
<line x1="0" y1="0" x2="0" y2="-106" stroke="#e01010" stroke-width="2.5" transform="rotate(252)"/>
<g class="r" font-size="14" fill="#444"><text x="4" y="-74">30</text><text x="4" y="-50">20</text><text x="4" y="-27">10</text></g></g>
<g transform="translate(1952,1857)"><use href="#pbase"/><use href="#r4"/>
<g transform="scale(.94)"><use href="#w" transform="rotate(77.5) scale(.55)"/><use href="#w" transform="rotate(82.5) scale(.8)"/><use href="#w" transform="rotate(87.5) scale(.75)"/><use href="#w" transform="rotate(92.5) scale(.6)"/><use href="#w" transform="rotate(97.5) scale(.4)"/></g>
<line x1="0" y1="0" x2="0" y2="-97" stroke="#e01010" stroke-width="2.5" transform="rotate(84)"/>
<g class="r" font-size="14" fill="#444"><text x="4" y="-80">40</text><text x="4" y="-60">30</text><text x="4" y="-40">20</text><text x="-18" y="-22">10</text></g></g>
<g transform="translate(2192,1857)"><use href="#pbase"/><use href="#r5"/>
<g transform="scale(.94)"><use href="#w" transform="rotate(52.5) scale(.7)"/><use href="#w" transform="rotate(57.5) scale(.85)"/><use href="#w" transform="rotate(62.5) scale(.75)"/><use href="#w" transform="rotate(67.5) scale(.5)"/><use href="#w" transform="rotate(72.5) scale(.35)"/></g>
<line x1="0" y1="0" x2="0" y2="-97" stroke="#e01010" stroke-width="2.5" transform="rotate(63)"/>
<g class="r" font-size="13" fill="#444"><text x="4" y="-80">50</text><text x="4" y="-61">40</text><text x="4" y="-42">30</text><text x="4" y="-23">20</text><text x="-16" y="-6">10</text></g></g>
<g transform="translate(1949,2148)"><use href="#pbase"/><use href="#r4"/>
<g transform="scale(.94)"><use href="#w" transform="rotate(30) scale(.15)"/><use href="#w" transform="rotate(40) scale(.2)"/><use href="#w" transform="rotate(62.5) scale(.5)"/><use href="#w" transform="rotate(67.5) scale(.6)"/><use href="#w" transform="rotate(72.5) scale(.8)"/><use href="#w" transform="rotate(77.5) scale(.65)"/><use href="#w" transform="rotate(82.5) scale(.8)"/><use href="#w" transform="rotate(87.5) scale(.88)"/><use href="#w" transform="rotate(92.5) scale(.9)"/><use href="#w" transform="rotate(97.5) scale(.55)"/><use href="#w" transform="rotate(102.5) scale(.3)"/></g>
<line x1="0" y1="0" x2="0" y2="-104" stroke="#e01010" stroke-width="2.5" transform="rotate(88)"/>
<path d="M22 -66L9 -30" stroke="#e02020" stroke-width="3" marker-end="url(#mR)"/>
<text class="b" x="-36" y="45" font-size="58" fill="#e83030">*</text>
<g class="r" font-size="14" fill="#444"><text x="4" y="-80">40</text><text x="4" y="-60">30</text><text x="4" y="-40">20</text><text x="-18" y="-22">10</text></g></g>
<g transform="translate(2190,2148)"><use href="#pbase"/><use href="#r5"/>
<g transform="scale(.94)"><use href="#w" transform="rotate(20) scale(.25)"/><use href="#w" transform="rotate(30) scale(.3)"/><use href="#w" transform="rotate(35) scale(.45)"/><use href="#w" transform="rotate(42.5) scale(.85)"/><use href="#w" transform="rotate(47.5) scale(.95)"/><use href="#w" transform="rotate(52.5) scale(.9)"/><use href="#w" transform="rotate(57.5) scale(.85)"/><use href="#w" transform="rotate(62.5) scale(.7)"/><use href="#w" transform="rotate(67.5) scale(.8)"/><use href="#w" transform="rotate(72.5) scale(1)"/><use href="#w" transform="rotate(77.5) scale(.9)"/><use href="#w" transform="rotate(82.5) scale(.95)"/><use href="#w" transform="rotate(87.5) scale(.8)"/><use href="#w" transform="rotate(92.5) scale(.5)"/></g>
<line x1="0" y1="0" x2="0" y2="-99" stroke="#e01010" stroke-width="2.5" transform="rotate(88)"/>
<path d="M-22 -66L-4 -32" stroke="#e02020" stroke-width="3" marker-end="url(#mR)"/>
<text class="b" x="-36" y="45" font-size="58" fill="#e83030">*</text>
<g class="r" font-size="13" fill="#444"><text x="4" y="-80">25</text><text x="4" y="-61">20</text><text x="4" y="-42">15</text><text x="4" y="-23">10</text><text x="-14" y="-6">5</text></g></g>
<g class="b" font-size="54">
<text x="1860" y="1214">L</text><text x="2257" y="1214">M</text>
<text x="1858" y="1491">L</text><text x="2257" y="1495">M</text>
<text x="1851" y="1784">L</text><text x="2254" y="1784">M</text>
<text x="1858" y="2075">L</text><text x="2255" y="2078">M</text>
</g>
<g class="b" font-size="46">
<text x="1915" y="1428" textLength="109" lengthAdjust="spacingAndGlyphs">n=166</text><text x="2156" y="1428" textLength="108" lengthAdjust="spacingAndGlyphs">n=205</text>
<text x="1909" y="1705" textLength="109" lengthAdjust="spacingAndGlyphs">n=152</text><text x="2152" y="1705" textLength="108" lengthAdjust="spacingAndGlyphs">n=173</text>
<text x="1917" y="1997" textLength="107" lengthAdjust="spacingAndGlyphs">n=227</text><text x="2154" y="1997" textLength="104" lengthAdjust="spacingAndGlyphs">n=211</text>
<text x="1915" y="2289" textLength="109" lengthAdjust="spacingAndGlyphs">n=280</text><text x="2154" y="2289" textLength="108" lengthAdjust="spacingAndGlyphs">n=276</text>
</g>
<path d="M2311 1274H2325V1835H2311M2300 1839H2314V2132H2300" fill="none" stroke="#000" stroke-width="3"/>
<g class="b" font-size="60">
<text x="2327" y="1547">*</text><text x="2327" y="1572">*</text><text x="2327" y="1597">*</text>
<text x="2317" y="1990">*</text><text x="2317" y="2016">*</text><text x="2317" y="2042">*</text>
</g>

<!-- ===== I panel ===== -->
<text class="b" x="10" y="2414" font-size="88">I</text>
<g stroke="#000" stroke-width="3">
<rect x="111" y="2367" width="37" height="38" fill="#74a600"/>
<rect x="559" y="2367" width="37" height="38" fill="#e2e2e2"/>
<rect x="992" y="2367" width="37" height="38" fill="#f6ada2"/>
</g>
<g class="n" font-size="52">
<text x="153" y="2404" textLength="383" lengthAdjust="spacingAndGlyphs">Lateral→Medial</text>
<text x="606" y="2404" textLength="360" lengthAdjust="spacingAndGlyphs">Misorientation</text>
<text x="1036" y="2406" textLength="383" lengthAdjust="spacingAndGlyphs">Medial→Lateral</text>
</g>
<g stroke="#333" stroke-width="1.5">
<rect x="187" y="2504" width="104" height="592" fill="#74a600"/>
<rect x="316" y="2504" width="102" height="592" fill="#f6ada2"/>
<rect x="506" y="2606" width="105" height="490" fill="#74a600"/>
<rect x="506" y="2542" width="105" height="64" fill="#e2e2e2"/>
<rect x="506" y="2504" width="105" height="38" fill="#f6ada2"/>
<rect x="640" y="2504" width="104" height="592" fill="#f6ada2"/>
<rect x="843" y="2504" width="102" height="592" fill="#74a600"/>
<rect x="971" y="2515" width="102" height="581" fill="#74a600"/>
<rect x="971" y="2504" width="102" height="11" fill="#f6ada2"/>
<rect x="1152" y="2642" width="103" height="454" fill="#74a600"/>
<rect x="1152" y="2565" width="103" height="77" fill="#e2e2e2"/>
<rect x="1152" y="2504" width="103" height="61" fill="#f6ada2"/>
<rect x="1279" y="2839" width="103" height="257" fill="#74a600"/>
<rect x="1279" y="2658" width="103" height="181" fill="#e2e2e2"/>
<rect x="1279" y="2504" width="103" height="154" fill="#f6ada2"/>
</g>
<path d="M187 2504H291M316 2504H418M640 2504H744M843 2504H945" stroke="#111" stroke-width="4"/>
<path d="M560 2491V2511M553 2491H567M560 2532V2552M553 2552H567M1022 2493V2514M1015 2493H1029M1202 2498V2510M1195 2498H1209M1202 2553V2578M1195 2553H1209M1195 2578H1209M1330 2487V2524M1323 2487H1337M1330 2638V2677M1323 2638H1337M1323 2677H1337M239 2501V2506M367 2501V2506" stroke="#111" stroke-width="2"/>
<path d="M162 2468V2892M162 2912V3096M143 3096H1406M153 2504H162M153 2658H162M153 2812H162M153 2940H162" fill="none" stroke="#000" stroke-width="3"/>
<path d="M148 2898L177 2884M148 2913L177 2899" stroke="#000" stroke-width="3"/>
<g class="nr" font-size="44" text-anchor="end">
<text x="148" y="2519" textLength="69" lengthAdjust="spacingAndGlyphs">100</text>
<text x="148" y="2673" textLength="46" lengthAdjust="spacingAndGlyphs">90</text>
<text x="148" y="2827" textLength="46" lengthAdjust="spacingAndGlyphs">80</text>
<text x="148" y="2955" textLength="46" lengthAdjust="spacingAndGlyphs">10</text>
<text x="148" y="3111">0</text>
</g>
<text class="b" font-size="52" text-anchor="middle" transform="translate(50,2791) rotate(-90)" textLength="653" lengthAdjust="spacingAndGlyphs">Orientation frequency (%)</text>
<g class="n" font-size="44" text-anchor="middle">
<text x="239" y="2778" textLength="95" lengthAdjust="spacingAndGlyphs">(100)</text>
<text x="367" y="2778" textLength="95" lengthAdjust="spacingAndGlyphs">(100)</text>
<text x="557" y="2778">(93)</text>
<text x="692" y="2778" textLength="95" lengthAdjust="spacingAndGlyphs">(100)</text>
<text x="894" y="2778" textLength="95" lengthAdjust="spacingAndGlyphs">(100)</text>
<text x="1029" y="2776">(99)</text>
<text x="1206" y="2780">(91)</text>
<text x="1334" y="2763">(12)</text>
<text x="1334" y="2939">(78)</text>
<text x="1334" y="2561">(10)</text>
<text x="588" y="2537">(3)</text>
<text x="563" y="2588">(4)</text>
<text x="1205" y="2551">(4)</text>
<text x="1204" y="2629">(5)</text>
</g>
<g class="n" font-size="52" text-anchor="middle">
<text x="231" y="3077">L</text><text x="365" y="3077">M</text>
<text x="563" y="3077">L</text><text x="694" y="3077">M</text>
<text x="897" y="3077">L</text><text x="1020" y="3077">M</text>
<text x="1214" y="3077">L</text><text x="1333" y="3077">M</text>
</g>
<g class="bi" font-size="60" text-anchor="middle">
<text x="293" y="3152" textLength="227" lengthAdjust="spacingAndGlyphs">Control</text>
<text x="608" y="3152" textLength="97" lengthAdjust="spacingAndGlyphs">Ptx</text>
<text x="931" y="3152" textLength="171" lengthAdjust="spacingAndGlyphs">Emx2</text>
<text x="1276" y="3152" textLength="305" lengthAdjust="spacingAndGlyphs">Emx2+Ptx</text>
</g>
<path d="M242 2476H561M902 2456H1207M1022 2469H1327" stroke="#000" stroke-width="3"/>
<g class="b" font-size="55" text-anchor="middle">
<text x="413" y="2484">**</text><text x="1065" y="2468">**</text><text x="1261" y="2484">**</text>
</g>

<!-- I side schematics -->
<path d="M1547 2378C1600 2378 1650 2410 1648 2465C1647 2490 1630 2500 1627 2515C1625 2530 1640 2560 1632 2600C1620 2670 1580 2705 1533 2705C1470 2705 1418 2650 1415 2570C1412 2480 1470 2380 1547 2378Z" fill="#fff"/>
<path d="M1595 2440C1570 2420 1510 2430 1495 2495C1485 2545 1505 2590 1545 2600" fill="none" stroke="#2a6090" stroke-width="48" stroke-linecap="round"/>
<path d="M1595 2440C1570 2420 1510 2430 1495 2495C1485 2545 1505 2590 1545 2600" fill="none" stroke="#acd5e8" stroke-width="44" stroke-linecap="round"/>
<path d="M1618 2402C1600 2420 1580 2416 1547 2418C1510 2425 1475 2455 1470 2500C1466 2545 1475 2585 1510 2605C1530 2620 1533 2650 1533 2703" fill="none" stroke="#d42020" stroke-width="8"/>
<path d="M1618 2402C1600 2420 1580 2416 1547 2418C1510 2425 1475 2455 1470 2500C1466 2545 1475 2585 1510 2605C1530 2620 1533 2650 1533 2703" fill="none" stroke="#ffe000" stroke-width="3.5"/>
<path d="M1547 2378L1535 2705M1432 2483L1638 2498M1417 2577L1632 2593M1480 2488V2578M1598 2498V2588" stroke="#f0a050" stroke-width="6"/>
<path d="M1547 2378C1600 2378 1650 2410 1648 2465C1647 2490 1630 2500 1627 2515C1625 2530 1640 2560 1632 2600C1620 2670 1580 2705 1533 2705C1470 2705 1418 2650 1415 2570C1412 2480 1470 2380 1547 2378Z" fill="none" stroke="#000" stroke-width="3"/>
<use href="#ka" transform="translate(1522,2407) rotate(60)"/><use href="#ka" transform="translate(1585,2407) rotate(90)"/><use href="#ka" transform="translate(1473,2443) rotate(45)"/><use href="#ka" transform="translate(1523,2462) rotate(-120)"/><use href="#ka" transform="translate(1585,2450) rotate(-90)"/><use href="#ka" transform="translate(1633,2453) rotate(-60)"/><use href="#ka" transform="translate(1447,2498) rotate(20)"/><use href="#ka" transform="translate(1503,2512) rotate(200)"/><use href="#ka" transform="translate(1567,2510) rotate(190)"/><use href="#ka" transform="translate(1510,2562) rotate(150)"/><use href="#ka" transform="translate(1617,2575) rotate(200)"/><use href="#ka" transform="translate(1457,2605) rotate(-30)"/><use href="#ka" transform="translate(1570,2618) rotate(145)"/><use href="#ka" transform="translate(1483,2642) rotate(-35)"/><use href="#ka" transform="translate(1587,2667) rotate(140)"/><use href="#ka" transform="translate(1512,2678) rotate(-40)"/>
<rect x="1417" y="2518" width="61" height="35" rx="6" fill="#e6eedc" stroke="#000" stroke-width="2.5"/>
<rect x="1542" y="2524" width="58" height="36" rx="6" fill="#f2dcd8" stroke="#000" stroke-width="2.5"/>
<text class="b" x="1447" y="2548" font-size="30" text-anchor="middle">L</text>
<text class="b" x="1571" y="2554" font-size="30" text-anchor="middle">M</text>
<text class="b" x="1553" y="2371" font-size="34">0º</text>
<text class="b" x="1642" y="2603" font-size="34">90º</text>
<ellipse cx="1518" cy="2816" rx="57" ry="46" fill="#f6c6c6" stroke="#000" stroke-width="2.5"/>
<path d="M1461 2746V2889M1425 2835H1534" stroke="#f0a050" stroke-width="5" opacity=".9"/>
<path d="M1468 2812A20 20 0 0 1 1490 2822" fill="none" stroke="#fff" stroke-width="3"/>
<path d="M1467 2832L1540 2810" stroke="#4a7ec0" stroke-width="6" marker-end="url(#mBl)"/>
<circle cx="1561" cy="2808" r="10" fill="#000"/>
<text class="r" x="1483" y="2751" font-size="28">0º</text>
<text class="r" x="1563" y="2875" font-size="28">90º</text>
<circle cx="1600" cy="3034" r="63" fill="#e0e0e0"/>
<path d="M1600 3034L1568.5 3088.6A63 63 0 0 1 1568.5 2979.4Z" fill="#f6ada2"/>
<path d="M1600 3034L1631.5 2979.4A63 63 0 0 1 1631.5 3088.6Z" fill="#74a600"/>
<circle cx="1600" cy="3034" r="63" fill="none" stroke="#000" stroke-width="2.5"/>
<path d="M1600 2953V3116M1520 3032L1688 3037" stroke="#f0a050" stroke-width="4"/>
<path d="M1566 3090L1634 2976M1572 2975L1628 3094" stroke="#000" stroke-width="5"/>
<g class="b" font-size="40">
<text x="1491" y="2975" textLength="73" lengthAdjust="spacingAndGlyphs">330</text>
<text x="1642" y="2975" textLength="46" lengthAdjust="spacingAndGlyphs">30</text>
<text x="1483" y="3123" textLength="73" lengthAdjust="spacingAndGlyphs">210</text>
<text x="1634" y="3126" textLength="73" lengthAdjust="spacingAndGlyphs">150</text>
</g>
<g class="b" font-size="34" fill="#888">
<text x="1605" y="2956" font-size="30">0</text>
<text x="1455" y="3047" textLength="58" lengthAdjust="spacingAndGlyphs">270</text>
<text x="1694" y="3058" textLength="40" lengthAdjust="spacingAndGlyphs">90</text>
<text x="1567" y="3142" textLength="57" lengthAdjust="spacingAndGlyphs">180</text>
</g>

<!-- ===== L panel ===== -->
<text class="b" x="1719" y="2414" font-size="96">L</text>
<path d="M1995 2374C2120 2370 2220 2430 2235 2512" fill="none" stroke="#000" stroke-width="5" marker-end="url(#mB)"/>
<path d="M1812 2447C1700 2560 1710 2810 1896 2864" fill="none" stroke="#000" stroke-width="5" marker-end="url(#mB)"/>
<path d="M2253 2713C2250 2790 2210 2840 2156 2852" fill="none" stroke="#000" stroke-width="5" marker-end="url(#mB)"/>
<path d="M2026 2975V3040" fill="none" stroke="#000" stroke-width="5" marker-end="url(#mB)"/>
<path d="M1915 2556L2024 2794" fill="none" stroke="#8aa64a" stroke-width="6" stroke-dasharray="16 10" marker-end="url(#mG)"/>
<path d="M1922 2556L2208 2792" fill="none" stroke="#8aa64a" stroke-width="6" stroke-dasharray="16 10" marker-end="url(#mG)"/>
<rect x="1814" y="2351" width="180" height="106" rx="14" fill="#c3d69b" stroke="#111" stroke-width="5"/>
<rect x="1845" y="2477" width="143" height="77" fill="#9bbb59" stroke="#222" stroke-width="4"/>
<rect x="2099" y="2519" width="256" height="127" rx="18" fill="#a2d2e0" stroke="#215868" stroke-width="6"/>
<rect x="2139" y="2651" width="187" height="60" rx="8" fill="#b7dde8" stroke="#31849b" stroke-width="4"/>
<rect x="1903" y="2800" width="247" height="113" rx="16" fill="#ccc1da" stroke="#3f3151" stroke-width="6"/>
<rect x="1891" y="2918" width="270" height="55" rx="8" fill="#e5e0ec" stroke="#5f497a" stroke-width="3"/>
<rect x="1915" y="3045" width="221" height="105" rx="14" fill="#bfbfbf" stroke="#111" stroke-width="5"/>
<g class="b" text-anchor="middle" font-size="40">
<text x="1904" y="2392" textLength="113" lengthAdjust="spacingAndGlyphs">Global</text>
<text x="1904" y="2440" textLength="114" lengthAdjust="spacingAndGlyphs">signals</text>
<text x="2225" y="2575" font-size="42" textLength="208" lengthAdjust="spacingAndGlyphs">Intercellular</text>
<text x="2227" y="2622" font-size="42" textLength="113" lengthAdjust="spacingAndGlyphs">signals</text>
<text x="2231" y="2697" font-size="38" textLength="150" lengthAdjust="spacingAndGlyphs">core PCP</text>
<text x="2026" y="2847" textLength="209" lengthAdjust="spacingAndGlyphs">Intracellular</text>
<text x="2026" y="2893" textLength="135" lengthAdjust="spacingAndGlyphs">polarity</text>
<text x="2026" y="2961" font-size="36" textLength="233" lengthAdjust="spacingAndGlyphs">Insc/LGN/Gαi</text>
<text x="2025" y="3088" textLength="181" lengthAdjust="spacingAndGlyphs">Kinocilium</text>
<text x="2024" y="3135" textLength="138" lengthAdjust="spacingAndGlyphs">position</text>
</g>
<text class="bi" x="1917" y="2533" font-size="46" fill="#fff" text-anchor="middle" textLength="120" lengthAdjust="spacingAndGlyphs">Emx2</text>
<path d="M2155 2996L2137 2967M2125 2976L2149 2958" stroke="#ee1010" stroke-width="6"/>
<text class="b" x="2148" y="3045" font-size="46" fill="#ee1010" textLength="77" lengthAdjust="spacingAndGlyphs">Ptx</text>
</svg>
</body></html>
